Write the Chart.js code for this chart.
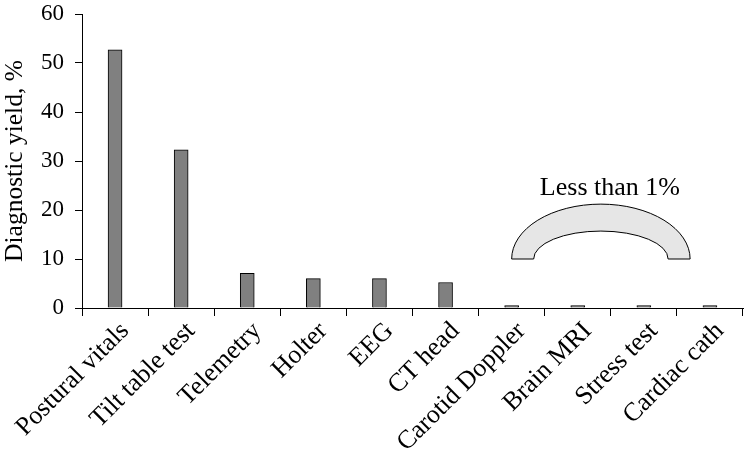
<!DOCTYPE html>
<html>
<head>
<meta charset="utf-8">
<script src="https://cdn.jsdelivr.net/npm/chart.js@4.4.0/dist/chart.umd.min.js"></script>
<style>
  html, body { margin: 0; padding: 0; background: #fff; }
  #wrap { width: 748px; height: 454px; }
</style>
</head>
<body>
<div id="wrap"><canvas id="mychart" width="748" height="454"></canvas></div>
<script>
const categories = ['Postural vitals', 'Tilt table test', 'Telemetry', 'Holter', 'EEG', 'CT head',
    'Carotid Doppler', 'Brain MRI', 'Stress test', 'Cardiac cath'];
const yieldValues = [52.7, 32.3, 7.1, 6.0, 6.0, 5.2, 0.5, 0.5, 0.5, 0.5];
const yTicks = [0, 10, 20, 30, 40, 50, 60];
const noteText = 'Less than 1%';

const serif = '"Liberation Serif", "Times New Roman", serif';

// arch annotation over the "<1%" group
const archPlugin = {
    id: 'arch',
    afterDatasetsDraw(chart) {
        const ctx = chart.ctx;
        const xs = chart.scales.x;
        const ys = chart.scales.y;
        const cw = xs.getPixelForValue(1) - xs.getPixelForValue(0);
        const left = xs.getPixelForValue(6);
        const right = xs.getPixelForValue(9) - 0.3 * cw;
        const cx = (left + right) / 2;
        const base = ys.getPixelForValue(10);
        const rxOut = (right - left) / 2;
        const ryOut = base - ys.getPixelForValue(21.2);
        const rxIn = rxOut - 22;
        const ryIn = base - ys.getPixelForValue(15.7);

        ctx.save();
        ctx.beginPath();
        ctx.ellipse(cx, base, rxOut, ryOut, 0, Math.PI, 2 * Math.PI);
        ctx.lineTo(cx + rxIn, base);
        ctx.ellipse(cx, base, rxIn, ryIn, 0, 2 * Math.PI, Math.PI, true);
        ctx.closePath();
        ctx.fillStyle = '#e6e6e6';
        ctx.fill();
        ctx.lineWidth = 1;
        ctx.strokeStyle = '#000';
        ctx.stroke();

        ctx.fillStyle = '#000';
        ctx.font = '26px ' + serif;
        ctx.textAlign = 'center';
        ctx.textBaseline = 'alphabetic';
        ctx.fillText(noteText, cx + 9, base - 64);
        ctx.restore();
    }
};

const ctx = document.getElementById('mychart');
const myChart = new Chart(ctx, {
    type: 'bar',
    data: {
        labels: categories,
        datasets: [{
            label: '',
            data: yieldValues,
            backgroundColor: '#808080',
            borderColor: '#000',
            borderWidth: 1,
            barThickness: 14,
        }],
    },
    plugins: [archPlugin],
    options: {
        responsive: false,
        animation: false,
        events: [],
        layout: {
            padding: { top: 14, right: 5, left: 0, bottom: 0 }
        },
        scales: {
            x: {
                offset: true,
                grid: {
                    offset: true,
                    drawOnChartArea: false,
                    drawTicks: true,
                    tickLength: 8,
                    color: '#000',
                },
                border: { color: '#000', width: 1 },
                ticks: {
                    color: '#000',
                    maxRotation: 45,
                    minRotation: 45,
                    autoSkip: false,
                    padding: 0,
                    labelOffset: 10,
                    font: { family: serif, size: 26 },
                },
                afterFit(scale) {
                    scale.height = 146;
                    scale.paddingTop = 0;
                    scale.paddingBottom = 0;
                }
            },
            y: {
                min: 0,
                max: 60,
                afterBuildTicks(scale) {
                    scale.ticks = yTicks.map(v => ({ value: v }));
                },
                grid: {
                    drawOnChartArea: false,
                    drawTicks: true,
                    tickLength: 7,
                    color: '#000',
                },
                border: { color: '#000', width: 1 },
                ticks: {
                    color: '#000',
                    padding: 11,
                    font: { family: serif, size: 23 },
                },
                title: {
                    display: true,
                    text: 'Diagnostic yield, %',
                    color: '#000',
                    padding: { top: 0, bottom: 0 },
                    font: { family: serif, size: 25.5 },
                },
                afterFit(scale) {
                    scale.width = 82;
                    scale.paddingTop = 0;
                    scale.paddingBottom = 0;
                }
            }
        },
        plugins: {
            legend: { display: false },
            tooltip: { enabled: false },
        }
    }
});
</script>
</body>
</html>
